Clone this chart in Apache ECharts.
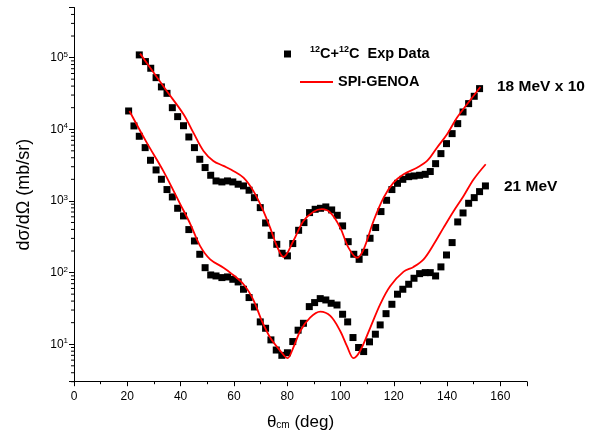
<!DOCTYPE html>
<html>
<head>
<meta charset="utf-8">
<script src="https://cdn.jsdelivr.net/npm/echarts@6/dist/echarts.min.js"></script>
<style>
  html, body { margin: 0; padding: 0; background: #fff; }
  #chart { width: 600px; height: 445px; }
</style>
</head>
<body>
<div id="chart"></div>
<script>
// 18 MeV (scaled x10), experimental points
const thetaExp18 = [24.5, 26.8, 28.8, 30.8, 32.8, 34.9, 36.9, 38.9, 41.1, 43.1, 45.2, 47.2, 49.2, 51.3, 53.3, 55.5,
  57.6, 59.6, 61.6, 63.6, 65.7, 67.7, 69.9, 71.9, 74.0, 76.1, 78.1, 80.1, 82.1, 84.3, 86.3, 88.4, 90.5, 92.5, 94.5,
  96.7, 98.8, 100.8, 102.9, 105.0, 107.0, 109.1, 111.1, 113.2, 115.2, 117.3, 119.3, 121.4, 123.4, 125.6, 127.6,
  129.7, 131.8, 133.7, 135.7, 137.7, 139.8, 141.9, 144.0, 146.0, 148.1, 150.2, 152.2]
const sigmaExp18 = [109000, 88000, 71000, 52500, 39000, 31700, 20000, 15000, 11200, 7800, 5540, 3810, 2920, 2280,
  1900, 1840, 1900, 1840, 1710, 1620, 1410, 1110, 806, 492, 331, 248, 186, 171, 254, 389, 498, 687, 764, 789, 824,
  748, 630, 448, 270, 180, 153, 192, 301, 425, 710, 1020, 1440, 1760, 2000, 2180, 2230, 2280, 2350, 2570, 3310,
  4570, 6300, 8690, 11980, 17420, 22780, 28840, 36900]

// 21 MeV, experimental points
const thetaExp21 = [20.5, 22.5, 24.5, 26.7, 28.7, 30.8, 32.8, 34.9, 36.9, 38.9, 41.1, 43.1, 45.2, 47.2, 49.2, 51.3,
  53.3, 55.5, 57.6, 59.6, 61.6, 63.6, 65.7, 67.7, 69.9, 71.9, 73.9, 75.9, 78.0, 80.1, 82.1, 84.1, 86.1, 88.3, 90.3,
  92.4, 94.5, 96.5, 98.7, 100.8, 102.7, 104.7, 106.8, 108.7, 110.9, 113.1, 114.9, 117.1, 119.3, 121.4, 123.4,
  125.6, 127.6, 129.7, 131.8, 133.7, 135.7, 137.7, 139.8, 141.9, 144.0, 146.0, 148.1, 150.2, 152.2, 154.4]
const sigmaExp21 = [17990, 11120, 7980, 5540, 3690, 2705, 2004, 1440, 1136, 789, 617, 398, 276, 180, 117, 92.6,
  89.7, 85.1, 86.9, 80.6, 74, 58.5, 44.8, 33.1, 20.5, 16.7, 11.5, 8.3, 7.0, 7.6, 10.9, 15.7, 19.6, 33.5, 38.1,
  43.3, 41.5, 37.3, 35.3, 26.2, 20.5, 12.4, 9.0, 7.9, 10.8, 13.8, 18.6, 26.7, 36.1, 49.9, 58.5,
  68.7, 83.3, 96.6, 99.8, 99.8, 89.7, 120, 176, 262, 509, 679, 927, 1111, 1348, 1618]

// SPI-GENOA curves
const thetaCalc18 = [24.8, 30.8, 34.8, 41.1, 44.8, 48.6, 52.3, 56.1, 59.8, 63.6, 67.3, 70.5, 73.6, 76.1, 78.6,
  82.3, 86.1, 89.9, 93.0, 96.2, 99.9, 103.0, 106.2, 108.7, 112.4, 116.2, 119.9, 123.7, 128.7, 132.5, 136.2,
  140.0, 143.7, 147.5, 152.5]
const sigmaCalc18 = [113500, 55500, 34200, 16200, 8970, 4980, 3610, 3080, 2620, 2110, 1380, 805, 424, 236, 165,
  276, 525, 708, 766, 685, 424, 223, 161, 211, 525, 1110, 1800, 2360, 2910, 3610, 5530,
  8510, 14500, 22300, 38900]

const thetaCalc21 = [20.8, 27.3, 33.5, 39.9, 43.7, 47.3, 51.1, 56.1, 58.6, 63.6, 67.3, 70.5, 73.6, 77.4, 80.1,
  82.3, 84.9, 88.6, 92.4, 96.2, 99.9, 102.4, 104.9, 107.4, 111.2, 114.9, 118.7, 123.7, 127.4, 131.2, 135.0,
  138.7, 142.5, 146.2, 150.0, 154.5]
const sigmaCalc21 = [17990, 6500, 2620, 897, 472, 236, 153, 117, 100, 68.7, 41.7, 21.1, 12.4, 8.1, 6.4,
  9.0, 15.3, 23.5, 28.5, 24.8, 15.3, 9.5, 6.4, 8.1, 17.1, 36.1, 65, 103, 120, 153, 248,
  424, 724, 1172, 2004, 3250]

const xTicks = [0, 20, 40, 60, 80, 100, 120, 140, 160]
const yMin = 3
const yMax = 500000

// log minor ticks (2..9 in each decade)
const yMinorTicks = []
for (let d = 0; d <= 5; d++) {
  for (let m = 2; m <= 9; m++) {
    const v = m * Math.pow(10, d)
    if (v >= yMin && v <= yMax) yMinorTicks.push(v)
  }
}

const FONT = 'Liberation Sans, Arial, Helvetica, sans-serif'
const zip = (xs, ys) => xs.map((x, i) => [x, ys[i]])

const chart = echarts.init(document.getElementById('chart'), null, { renderer: 'canvas' })

const expStyle = {
  type: 'scatter',
  name: '12C+12C Exp Data',
  symbol: 'rect',
  symbolSize: 7,
  itemStyle: { color: '#000', opacity: 1 },
  z: 2
}
const calcStyle = {
  type: 'line',
  name: 'SPI-GENOA',
  smooth: 0.35,
  symbol: 'none',
  showSymbol: false,
  lineStyle: { color: '#ff0000', width: 1.8 },
  itemStyle: { color: '#ff0000' },
  z: 3
}

chart.setOption({
  animation: false,
  textStyle: { fontFamily: FONT },
  grid: { left: 74, right: 73, top: 7.5, bottom: 63.3 },
  xAxis: {
    type: 'value',
    min: 0,
    max: 170,
    interval: 20,
    name: 'θ{sub|cm} (deg)',
    nameLocation: 'middle',
    nameGap: 32,
    nameTextStyle: {
      fontSize: 17, color: '#000', fontFamily: FONT,
      rich: { sub: { fontSize: 10, verticalAlign: 'bottom', lineHeight: 12, fontFamily: FONT } }
    },
    splitLine: { show: false },
    axisLine: { lineStyle: { color: '#000', width: 1 } },
    axisTick: { length: 4.5, lineStyle: { color: '#000' } },
    minorTick: { show: true, splitNumber: 2, length: 2.5, lineStyle: { color: '#000' } },
    axisLabel: {
      color: '#000', fontSize: 12, margin: 9, fontFamily: FONT,
      showMaxLabel: false,
      formatter: v => (xTicks.indexOf(v) >= 0 ? String(v) : '')
    }
  },
  yAxis: {
    type: 'log',
    min: yMin,
    max: yMax,
    name: 'dσ/dΩ (mb/sr)',
    nameLocation: 'middle',
    nameGap: 41,
    nameTextStyle: { fontSize: 18, color: '#000', fontFamily: FONT },
    splitLine: { show: false },
    axisLine: { lineStyle: { color: '#000', width: 1 } },
    axisTick: { length: 5, lineStyle: { color: '#000' } },
    minorTick: { show: false },
    axisLabel: {
      color: '#000', fontSize: 12, margin: 6, fontFamily: FONT,
      lineHeight: 14,
      formatter: v => {
        const e = Math.log10(v)
        if (Math.abs(e - Math.round(e)) > 1e-6) return ''
        return '10{sup|' + Math.round(e) + '}'
      },
      rich: { sup: { fontSize: 8, lineHeight: 8, verticalAlign: 'top', fontFamily: FONT } }
    }
  },
  legend: [{
    data: [{ name: '12C+12C Exp Data', icon: 'rect' }],
    left: 284,
    top: 45,
    itemWidth: 7,
    itemHeight: 7,
    itemGap: 0,
    padding: 0,
    selectedMode: false,
    formatter: () => '{sup|12}C+{sup|12}C  Exp Data',
    textStyle: {
      fontSize: 14.5, fontWeight: 'bold', color: '#000', fontFamily: FONT, lineHeight: 18,
      padding: [0, 0, 0, 14],
      rich: { sup: { fontSize: 9, fontWeight: 'bold', lineHeight: 10, verticalAlign: 'top', fontFamily: FONT } }
    }
  }, {
    data: [{ name: 'SPI-GENOA', icon: 'rect' }],
    left: 300,
    top: 73,
    itemWidth: 33,
    itemHeight: 2,
    padding: 0,
    selectedMode: false,
    textStyle: { fontSize: 14.5, fontWeight: 'bold', color: '#000', fontFamily: FONT, lineHeight: 18 }
  }],
  graphic: [{
    type: 'text', left: 497, top: 79,
    style: { text: '18 MeV x 10', font: 'bold 15.5px ' + FONT, fill: '#000' }
  }, {
    type: 'text', left: 504, top: 179,
    style: { text: '21 MeV', font: 'bold 15.5px ' + FONT, fill: '#000' }
  }],
  series: [
    Object.assign({}, expStyle, { data: zip(thetaExp18, sigmaExp18) }),
    Object.assign({}, expStyle, { data: zip(thetaExp21, sigmaExp21) }),
    Object.assign({}, calcStyle, { data: zip(thetaCalc18, sigmaCalc18) }),
    Object.assign({}, calcStyle, { data: zip(thetaCalc21, sigmaCalc21) }),
    {
      // minor ticks of the log axis
      type: 'custom',
      name: 'yMinor',
      silent: true,
      clip: false,
      z: 1,
      data: yMinorTicks.map(v => [0, v]),
      renderItem: (params, api) => {
        const p = api.coord([0, api.value(1)])
        return {
          type: 'line',
          shape: { x1: p[0] - 3, y1: p[1], x2: p[0], y2: p[1] },
          style: { stroke: '#000', lineWidth: 1 }
        }
      }
    }
  ]
})
</script>
</body>
</html>
